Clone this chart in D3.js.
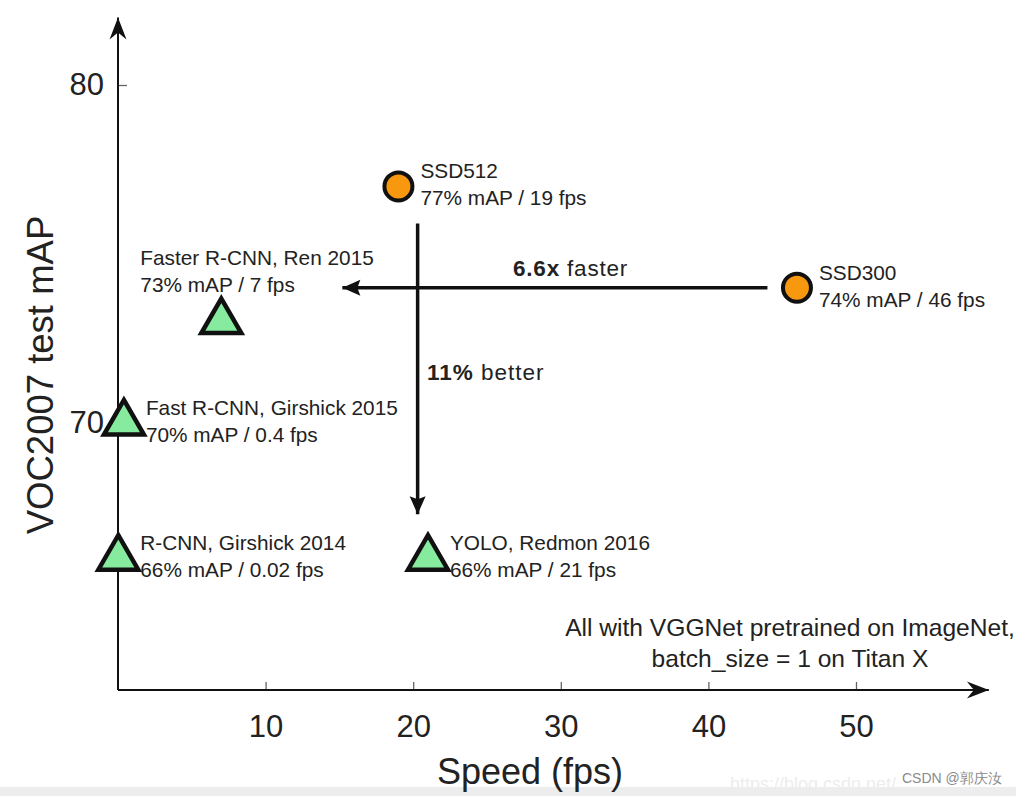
<!DOCTYPE html>
<html>
<head>
<meta charset="utf-8">
<script src="https://cdn.jsdelivr.net/npm/d3@7"></script>
<style>
  html, body { margin: 0; padding: 0; background: #fff; }
  svg { display: block; }
  text { font-family: "Liberation Sans", Arial, Helvetica, sans-serif; fill: #222; }
</style>
</head>
<body>
<svg id="chart" width="1016" height="796"></svg>
<script>
// ---- data ----
const methods   = ["Faster R-CNN, Ren 2015", "Fast R-CNN, Girshick 2015", "R-CNN, Girshick 2014", "YOLO, Redmon 2016", "SSD512", "SSD300"];
const speeds    = [7, 0.4, 0.02, 21, 19, 46];
const mAPs      = [73, 70, 66, 66, 77, 74];
const subtitles = ["73% mAP / 7 fps", "70% mAP / 0.4 fps", "66% mAP / 0.02 fps", "66% mAP / 21 fps", "77% mAP / 19 fps", "74% mAP / 46 fps"];
const kinds     = ["prior", "prior", "prior", "prior", "ssd", "ssd"];
const xTicks    = [10, 20, 30, 40, 50];
const yTicks    = [70, 80];
const xDomain   = [0, 50];
const yDomain   = [70, 80];
const xAxisEnd  = 59;      // arrow tip of speed axis
const yAxisLow  = 62.1;    // where the axes cross
const yAxisEnd  = 82;      // arrow tip of mAP axis
// comparison arrows (data coordinates)
const fasterArrow = { from: [44, 74], to: [15.2, 74] };
const betterArrow = { from: [20.3, 75.9], to: [20.3, 67.3] };

const svg = d3.select("#chart");
const x = d3.scaleLinear().domain(xDomain).range([118, 856]);
const y = d3.scaleLinear().domain(yDomain).range([423, 85]);

// markers
const defs = svg.append("defs");
defs.append("marker").attr("id", "axisHead")
  .attr("markerUnits", "userSpaceOnUse").attr("viewBox", "-24 -10 26 20")
  .attr("refX", 0).attr("refY", 0).attr("markerWidth", 26).attr("markerHeight", 20)
  .attr("orient", "auto")
  .append("path").attr("d", "M0,0 L-22,-8.5 L-15,0 L-22,8.5 Z").attr("fill", "#111");
defs.append("marker").attr("id", "dataHead")
  .attr("markerUnits", "userSpaceOnUse").attr("viewBox", "-20 -10 22 20")
  .attr("refX", 0).attr("refY", 0).attr("markerWidth", 22).attr("markerHeight", 20)
  .attr("orient", "auto")
  .append("path").attr("d", "M0,0 L-18,-8 L-15,0 L-18,8 Z").attr("fill", "#111");

// bottom grey band
svg.append("rect").attr("x", 0).attr("y", 787).attr("width", 1016).attr("height", 9).attr("fill", "#ededed");

// axes
const gx = svg.append("g").attr("transform", `translate(0,${y(yAxisLow)})`)
  .call(d3.axisBottom(x).tickValues(xTicks).tickSize(-8).tickPadding(25).tickFormat(d3.format("d")));
const gy = svg.append("g").attr("transform", `translate(${x(0)},0)`)
  .call(d3.axisLeft(y).tickValues(yTicks).tickSize(-9).tickPadding(14).tickFormat(d3.format("d")));
[gx, gy].forEach(g => {
  g.select(".domain").remove();
  g.selectAll(".tick line").attr("stroke", "#666").attr("stroke-width", 1.3);
  g.selectAll(".tick text").attr("font-size", 31).attr("fill", "#2a2a2a")
    .attr("font-family", "Liberation Sans, Arial, sans-serif");
});

svg.append("line")
  .attr("x1", x(0)).attr("y1", y(yAxisLow)).attr("x2", x(xAxisEnd)).attr("y2", y(yAxisLow))
  .attr("stroke", "#111").attr("stroke-width", 2).attr("marker-end", "url(#axisHead)");
svg.append("line")
  .attr("x1", x(0)).attr("y1", y(yAxisLow)).attr("x2", x(0)).attr("y2", y(yAxisEnd))
  .attr("stroke", "#111").attr("stroke-width", 2).attr("marker-end", "url(#axisHead)");

// axis titles
svg.append("text").attr("x", 530).attr("y", 784).attr("text-anchor", "middle")
  .attr("font-size", 36).attr("fill", "#2a2a2a").text("Speed (fps)");
svg.append("text").attr("transform", "translate(53,375) rotate(-90)").attr("text-anchor", "middle")
  .attr("font-size", 36.5).attr("fill", "#2a2a2a").text("VOC2007 test mAP");

// comparison arrows
[fasterArrow, betterArrow].forEach(a => {
  svg.append("line")
    .attr("x1", x(a.from[0])).attr("y1", y(a.from[1]))
    .attr("x2", x(a.to[0])).attr("y2", y(a.to[1]))
    .attr("stroke", "#111").attr("stroke-width", 3.5).attr("marker-end", "url(#dataHead)");
});
const t1 = svg.append("text").attr("x", 513).attr("y", 276).attr("font-size", 22.5).attr("letter-spacing", 0.8);
t1.append("tspan").attr("font-weight", "bold").text("6.6x");
t1.append("tspan").text(" faster");
const t2 = svg.append("text").attr("x", 427).attr("y", 380).attr("font-size", 22.5).attr("letter-spacing", 1);
t2.append("tspan").attr("font-weight", "bold").text("11%");
t2.append("tspan").text(" better");

// points
const pts = methods.map((m, i) => ({ name: m, sub: subtitles[i], sx: speeds[i], my: mAPs[i], kind: kinds[i] }));
const tri = d3.symbol().type(d3.symbolTriangle).size(690);
pts.forEach(p => {
  const cx = x(p.sx), cy = y(p.my);
  if (p.kind === "ssd") {
    svg.append("circle").attr("cx", cx).attr("cy", cy).attr("r", 14)
      .attr("fill", "#f7980f").attr("stroke", "#111").attr("stroke-width", 4);
  } else {
    svg.append("path").attr("d", tri).attr("transform", `translate(${cx},${cy})`)
      .attr("fill", "#86ea9f").attr("stroke", "#111").attr("stroke-width", 4.5)
      .attr("stroke-linejoin", "miter");
  }
  // label placement: above-left for the point whose label sits over it
  const above = p.name.startsWith("Faster");
  const lx = above ? cx - 81 : cx + 22;
  const ly = above ? cy - 57 : cy - 8;
  svg.append("text").attr("x", lx).attr("y", ly).attr("font-size", 20.8).text(p.name);
  svg.append("text").attr("x", lx).attr("y", ly + 27).attr("font-size", 20.8).text(p.sub);
});

// note
svg.append("text").attr("x", 790).attr("y", 636).attr("text-anchor", "middle").attr("font-size", 24.6)
  .text("All with VGGNet pretrained on ImageNet,");
svg.append("text").attr("x", 790).attr("y", 667).attr("text-anchor", "middle").attr("font-size", 24.6)
  .text("batch_size = 1 on Titan X");

// watermarks
svg.append("text").attr("x", 730).attr("y", 790).attr("font-size", 18)
  .attr("font-family", "Liberation Mono, monospace").style("fill", "#ededed")
  .text("https://blog.csdn.net/");
svg.append("text").attr("x", 902).attr("y", 783).attr("font-size", 14)
  .attr("font-family", "Noto Sans CJK SC, sans-serif").style("fill", "#8a8a8a")
  .text("CSDN @郭庆汝");
</script>
</body>
</html>
